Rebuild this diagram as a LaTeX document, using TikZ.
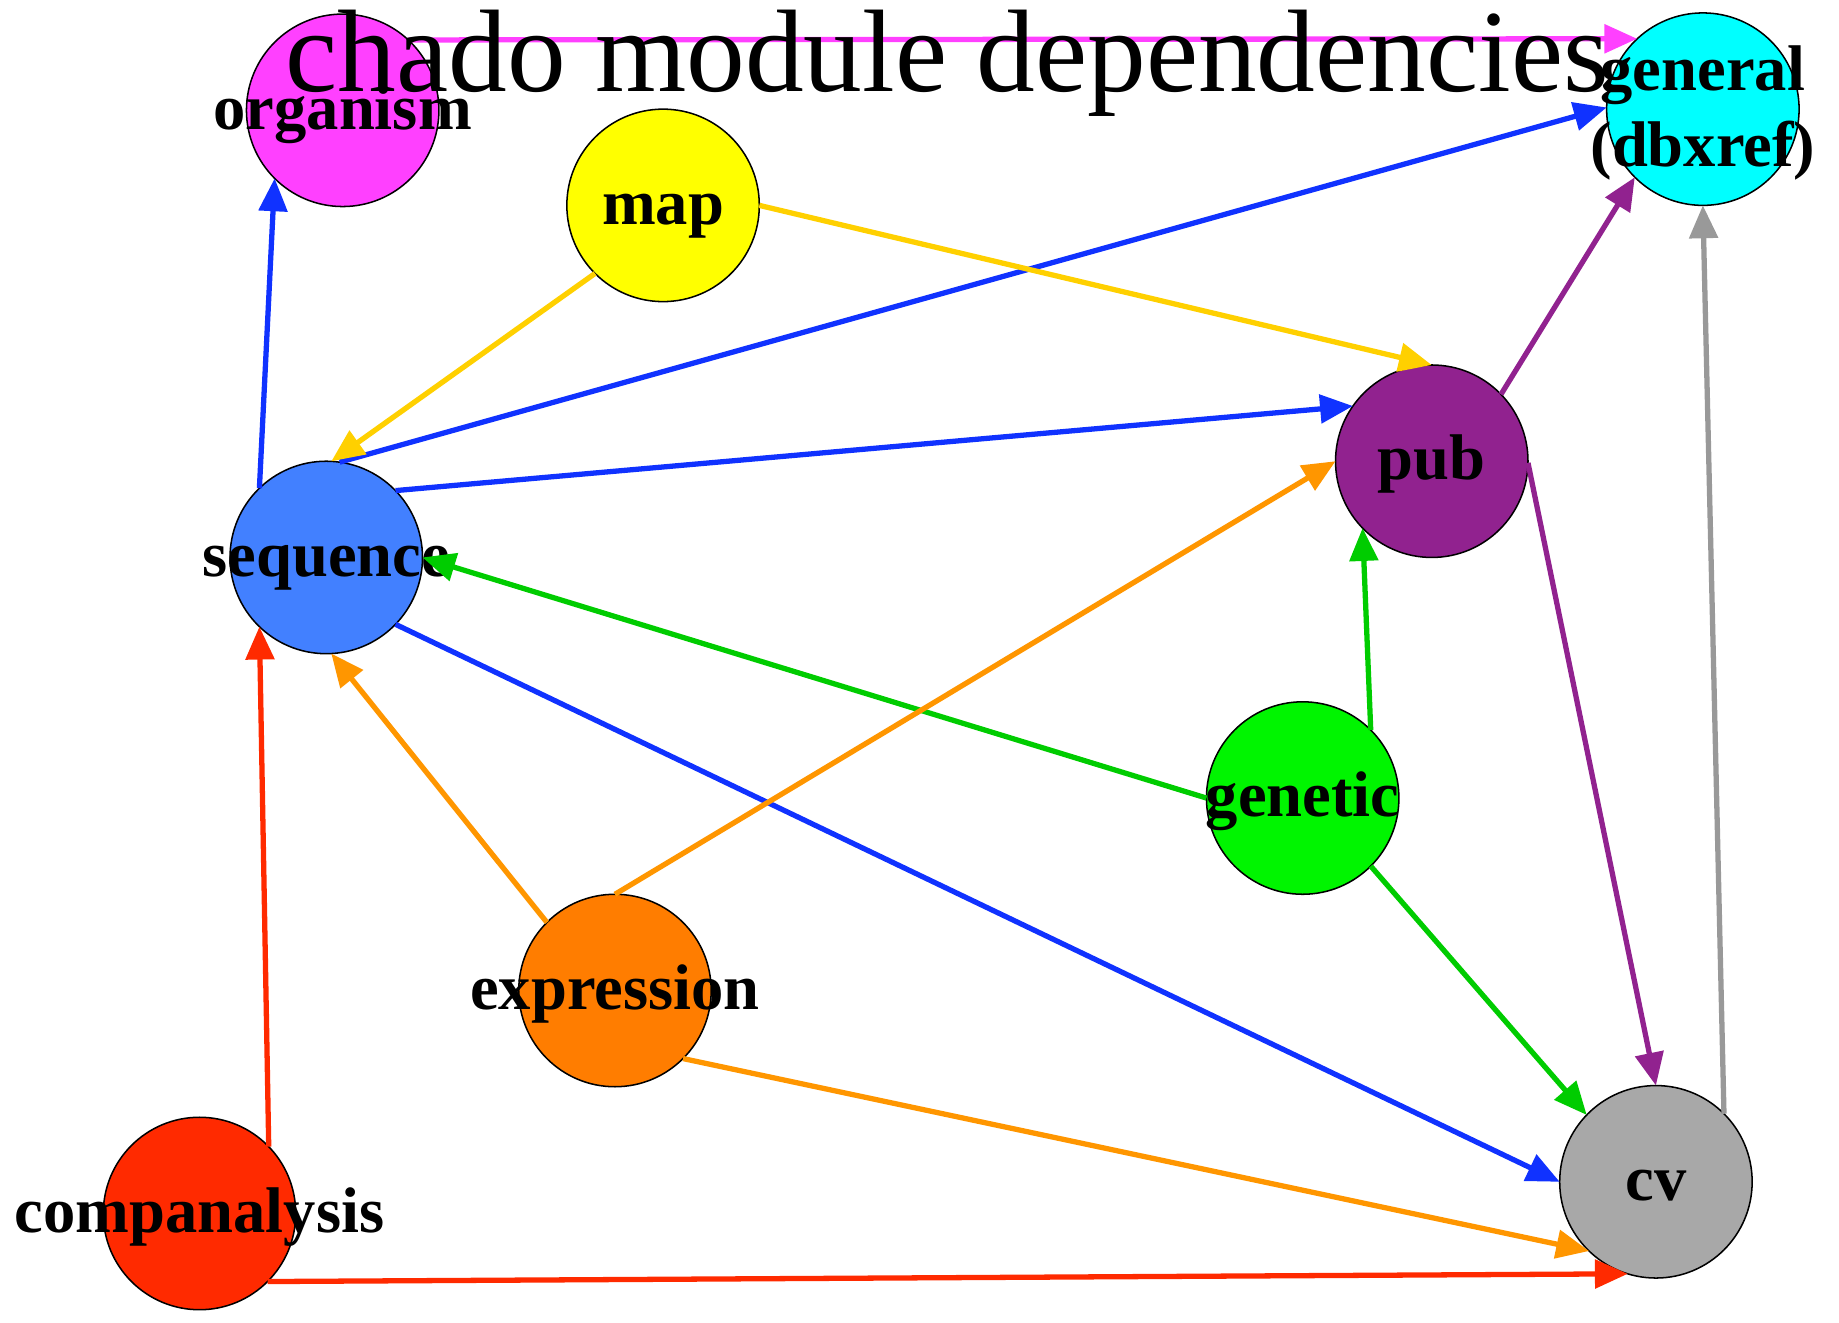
\documentclass[tikz,border=0pt]{standalone}
\usepackage{fontspec}
\setmainfont{Liberation Serif}
\usetikzlibrary{arrows.meta}
\definecolor{cMag}{RGB}{255,64,255}
\definecolor{cYel}{RGB}{255,255,0}
\definecolor{cCyan}{RGB}{0,255,255}
\definecolor{cPub}{RGB}{145,34,143}
\definecolor{cSeq}{RGB}{66,128,255}
\definecolor{cGen}{RGB}{0,245,0}
\definecolor{cExp}{RGB}{255,125,0}
\definecolor{cRed}{RGB}{255,42,0}
\definecolor{cCv}{RGB}{168,168,168}
\definecolor{eBlue}{RGB}{16,50,255}
\definecolor{eGold}{RGB}{255,208,0}
\definecolor{ePur}{RGB}{145,34,143}
\definecolor{eGray}{RGB}{153,153,153}
\definecolor{eGreen}{RGB}{0,204,0}
\definecolor{eOrange}{RGB}{255,150,0}
\definecolor{eRed}{RGB}{255,42,0}
\begin{document}
\begin{tikzpicture}[x=1pt,y=-1pt,
  circ/.style={circle,draw=black,line width=1.3pt,minimum size=164pt,inner sep=0pt,outer sep=0pt},
  lbl/.style={font=\fontsize{55}{65}\selectfont\bfseries,inner sep=0pt,text height=43pt,text depth=11pt,align=center},
  edge/.style={line width=4.5pt}]
\useasboundingbox (0,0) rectangle (1567,1127);
% nodes
\node[circ,fill=cMag]  (organism) at (292,94) {};
\node[circ,fill=cYel]  (map) at (565,175) {};
\node[circ,fill=cCyan] (general) at (1451,93) {};
\node[circ,fill=cPub]  (pub) at (1220,393) {};
\node[circ,fill=cSeq]  (sequence) at (278,475) {};
\node[circ,fill=cGen]  (genetic) at (1110,680) {};
\node[circ,fill=cExp]  (expression) at (524,844) {};
\node[circ,fill=cRed]  (companalysis) at (170,1034) {};
\node[circ,fill=cCv]   (cv) at (1411,1007) {};
% labels
\node[lbl] (organism-l) at (organism) {organism};
\node[lbl] (map-l) at (map) {map};
\node[font=\fontsize{55}{65}\selectfont\bfseries,inner sep=0pt,align=center,anchor=base] (general-l) at (1451,142) {general\\(dbxref)};
\node[lbl] (pub-l) at (pub) {pub};
\node[lbl] (sequence-l) at (sequence) {sequence};
\node[lbl] (genetic-l) at (genetic) {genetic};
\node[lbl] (expression-l) at (expression) {expression};
\node[lbl] (companalysis-l) at (companalysis) {companalysis};
\node[lbl] (cv-l) at (cv) {cv};
% edges
\draw[edge,draw=cMag,-{Triangle[length=28pt,width=24pt,fill=cMag]}] (organism.47) -- (general.133);
\draw[edge,draw=eBlue,-{Triangle[length=28pt,width=24pt,fill=eBlue]}] (sequence.134) -- (organism.225);
\draw[edge,draw=eBlue,-{Triangle[length=28pt,width=24pt,fill=eBlue]}] (sequence.82) -- (general.179);
\draw[edge,draw=eBlue,-{Triangle[length=28pt,width=24pt,fill=eBlue]}] (sequence.44.5) -- (pub.145.5);
\draw[edge,draw=eBlue,-{Triangle[length=28pt,width=24pt,fill=eBlue]}] (sequence.-44.5) -- (cv.180);
\draw[edge,draw=eGold,-{Triangle[length=28pt,width=24pt,fill=eGold]}] (map.225) -- (sequence.87);
\draw[edge,draw=eGold,-{Triangle[length=28pt,width=24pt,fill=eGold]}] (map.0) -- (pub.90);
\draw[edge,draw=ePur,-{Triangle[length=28pt,width=24pt,fill=ePur]}] (pub.44.5) -- (general.225);
\draw[edge,draw=ePur,-{Triangle[length=28pt,width=24pt,fill=ePur]}] (pub.-1) -- (cv.90);
\draw[edge,draw=eGray,-{Triangle[length=28pt,width=24pt,fill=eGray]}] (cv.45) -- (general.270);
\draw[edge,draw=eGreen,-{Triangle[length=28pt,width=24pt,fill=eGreen]}] (genetic.180) -- (sequence.0);
\draw[edge,draw=eGreen,-{Triangle[length=28pt,width=24pt,fill=eGreen]}] (genetic.45) -- (pub.224.5);
\draw[edge,draw=eGreen,-{Triangle[length=28pt,width=24pt,fill=eGreen]}] (genetic.-45) -- (cv.136);
\draw[edge,draw=eOrange,-{Triangle[length=28pt,width=24pt,fill=eOrange]}] (expression.135) -- (sequence.-87);
\draw[edge,draw=eOrange,-{Triangle[length=28pt,width=24pt,fill=eOrange]}] (expression.90) -- (pub.180);
\draw[edge,draw=eOrange,-{Triangle[length=28pt,width=24pt,fill=eOrange]}] (expression.-45) -- (cv.226);
\draw[edge,draw=eRed,-{Triangle[length=28pt,width=24pt,fill=eRed]}] (companalysis.44.5) -- (sequence.226);
\draw[edge,draw=eRed,-{Triangle[length=28pt,width=24pt,fill=eRed]}] (companalysis.-45) -- (cv.253.5);
% title
\node[font=\fontsize{100}{110}\selectfont,inner sep=0pt,anchor=base] (title) at (807,78) {chado module dependencies};
\end{tikzpicture}
\end{document}
